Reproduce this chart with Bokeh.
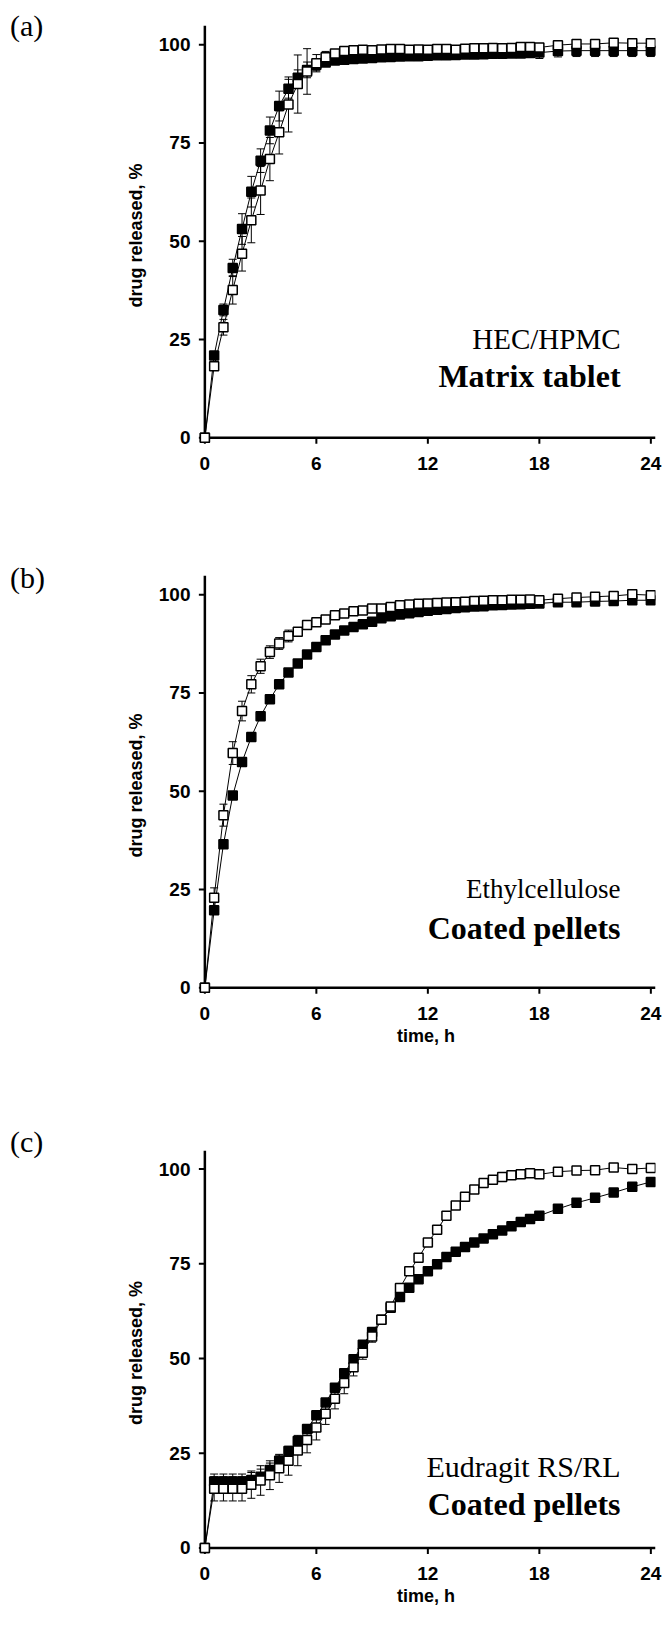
import numpy as np
from bokeh.plotting import figure
from bokeh.models import Range1d, FixedTicker, Label, ColumnDataSource, Div
from bokeh.layouts import column, row
from bokeh.embed import file_html
from bokeh.resources import INLINE

# ---------------- data ----------------
time_h = [0, 0.5, 1, 1.5, 2, 2.5, 3, 3.5, 4, 4.5, 5, 5.5, 6, 6.5, 7, 7.5, 8, 8.5,
          9, 9.5, 10, 10.5, 11, 11.5, 12, 12.5, 13, 13.5, 14, 14.5, 15, 15.5, 16,
          16.5, 17, 17.5, 18, 19, 20, 21, 22, 23, 24]

x_ticks = [0, 6, 12, 18, 24]
y_ticks = [0, 25, 50, 75, 100]

# (a) HEC/HPMC matrix tablet
a_filled = [0, 20.9, 32.5, 43.2, 53.1, 62.6, 70.5, 78.2, 84.4, 88.8, 91.6, 93.6, 94.9,
            95.5, 96.0, 96.2, 96.4, 96.5, 96.6, 96.8, 96.9, 97.0, 97.1, 97.1, 97.2, 97.3,
            97.3, 97.4, 97.5, 97.5, 97.6, 97.7, 97.7, 97.8, 97.8, 97.9, 98.0, 98.4, 98.5,
            98.5, 98.5, 98.5, 98.5]
a_filled_err = [0, 1.0, 1.5, 2.2, 3.9, 3.9, 3.0, 3.4, 3.8, 2.4, 2.0, 2.0, 1.5, 1.0, 0.8,
                0.8, 0.8, 0.8, 0.8, 0.8, 0.8, 0.8, 0.8, 0.8, 0.8, 0.8, 0.8, 0.8, 0.8,
                0.8, 0.8, 0.8, 0.8, 0.8, 0.8, 0.8, 1.5, 1.5, 1.5, 1.5, 1.5, 1.5, 1.5]
a_open = [0, 18.2, 28.1, 37.6, 46.8, 55.3, 62.9, 70.9, 77.7, 84.8, 90.0, 93.2, 95.3,
          96.8, 97.8, 98.4, 98.6, 98.7, 98.6, 98.8, 98.9, 98.9, 98.7, 98.8, 98.7, 98.9,
          98.9, 98.7, 99.0, 99.1, 99.1, 99.2, 99.1, 99.2, 99.4, 99.4, 99.3, 99.9, 100.2,
          100.2, 100.5, 100.4, 100.4]
a_open_err = [0, 1.0, 2.0, 3.6, 4.4, 5.7, 6.1, 5.5, 5.5, 7.0, 7.4, 5.8, 2.2, 1.5, 1.0,
              0.8, 0.8, 0.8, 0.8, 0.8, 0.8, 0.8, 0.8, 0.8, 0.8, 0.8, 0.8, 0.8, 0.8,
              0.8, 0.8, 0.8, 0.8, 0.8, 0.8, 0.8, 0.8, 0.6, 0.6, 0.6, 0.6, 0.6, 0.6]

# (b) Ethylcellulose coated pellets
b_filled = [0, 19.7, 36.5, 48.9, 57.4, 63.8, 69.1, 73.4, 77.2, 80.2, 82.5, 84.8, 86.7,
            88.4, 89.9, 90.9, 91.8, 92.5, 93.1, 94.0, 94.5, 95.0, 95.3, 95.6, 95.9, 96.2,
            96.4, 96.6, 96.8, 97.0, 97.1, 97.3, 97.4, 97.5, 97.6, 97.7, 97.8, 98.1, 98.1,
            98.3, 98.4, 98.6, 98.6]
b_filled_err = [0, 0.8, 0.8, 0.8, 0.7, 0.7, 0.6, 0.6, 0.5, 0.5, 0.5, 0.5, 0.5, 0.5, 0.5,
                0.5, 0.5, 0.5, 0.5, 0.5, 0.5, 0.5, 0.5, 0.5, 0.5, 0.5, 0.5, 0.5, 0.5,
                0.5, 0.5, 0.5, 0.5, 0.5, 0.5, 0.5, 0.5, 0.5, 0.5, 0.5, 0.5, 0.5, 0.5]
b_open = [0, 22.9, 43.9, 59.7, 70.4, 77.2, 81.8, 85.4, 87.6, 89.5, 90.6, 92.3, 93.0,
          93.7, 94.8, 95.2, 95.8, 96.0, 96.5, 96.5, 96.9, 97.3, 97.5, 97.7, 97.8, 97.9,
          98.0, 98.1, 98.2, 98.4, 98.5, 98.6, 98.6, 98.7, 98.7, 98.8, 98.6, 99.0, 99.3,
          99.5, 99.7, 100.1, 99.9]
b_open_err = [0, 2.5, 2.8, 2.9, 2.5, 2.2, 1.8, 1.6, 1.5, 1.5, 1.0, 0.8, 0.7, 0.6, 0.5,
              0.5, 0.5, 0.5, 0.5, 0.5, 0.5, 0.5, 0.5, 0.5, 0.5, 0.5, 0.5, 0.5, 0.5,
              0.5, 0.5, 0.5, 0.5, 0.5, 0.5, 0.5, 0.5, 0.5, 0.5, 0.5, 0.5, 0.5, 0.5]

# (c) Eudragit RS/RL coated pellets
c_filled = [0, 17.5, 17.5, 17.5, 17.5, 17.9, 18.8, 20.6, 23.0, 25.6, 28.2, 31.4, 35.0,
            38.4, 42.3, 46.1, 49.8, 53.6, 57.0, 60.2, 63.4, 66.2, 68.7, 70.9, 73.0, 74.9,
            76.8, 78.2, 79.4, 80.6, 81.7, 82.8, 83.8, 84.9, 86.0, 86.8, 87.7, 89.5, 91.1,
            92.4, 93.8, 95.3, 96.6]
c_filled_err = [0, 2.0, 2.0, 2.0, 2.0, 2.0, 2.0, 1.8, 1.5, 1.2, 1.0, 0.8, 0.8, 0.8, 0.8,
                0.8, 0.8, 0.8, 0.8, 0.8, 0.8, 0.8, 0.6, 0.6, 0.6, 0.6, 0.6, 0.6, 0.6,
                0.6, 0.6, 0.6, 0.6, 0.6, 0.6, 0.6, 0.6, 0.6, 0.6, 0.6, 0.6, 0.6, 0.6]
c_open = [0, 15.6, 15.6, 15.6, 15.6, 16.7, 17.8, 19.2, 21.0, 23.0, 25.7, 28.5, 31.8,
          35.4, 39.4, 43.5, 47.7, 51.5, 55.8, 60.2, 63.7, 68.6, 73.0, 76.6, 80.6, 84.0,
          87.7, 90.4, 92.7, 94.6, 96.3, 97.2, 97.9, 98.4, 98.6, 98.9, 98.6, 99.3, 99.6,
          99.7, 100.4, 100.0, 100.3]
c_open_err = [0, 3.2, 3.2, 3.2, 3.2, 3.6, 3.9, 3.8, 3.7, 3.8, 4.0, 3.4, 3.3, 2.8, 2.7,
              2.8, 2.3, 1.7, 1.5, 1.0, 0.8, 0.8, 0.6, 0.6, 0.6, 0.6, 0.6, 0.6, 0.6,
              0.6, 0.6, 0.6, 0.6, 0.6, 0.6, 0.6, 0.6, 0.5, 0.5, 0.5, 0.5, 0.5, 0.5]

SANS = "Liberation Sans"
SERIF = "Liberation Serif"
X_END = 24.25
Y_END = 104.9


def letter_panel(letter, height, top):
    # panel letter in its own 50px-wide strip; 'top' = top of a 30px line box
    html = ('<div style="position:relative; top:%dpx; left:10px; width:40px; '
            'font-family:\'Liberation Serif\'; font-size:30px; line-height:30px; '
            'color:black;">%s</div>' % (top, letter))
    return Div(text=html, width=50, height=height, margin=0)


def make_panel(filled, filled_err, opened, opened_err, height, b_top, b_bottom,
               line1, line1_y, line1_size, line2, line2_y, xlabel):
    f = np.array(filled, dtype=float)
    fe = np.array(filled_err, dtype=float)
    o = np.array(opened, dtype=float)
    oe = np.array(opened_err, dtype=float)
    src = ColumnDataSource(dict(t=time_h, f=f, f_lo=f - fe, f_hi=f + fe,
                                o=o, o_lo=o - oe, o_hi=o + oe))

    p = figure(width=612, height=height, x_range=Range1d(-0.45, X_END),
               y_range=Range1d(-2.0, Y_END), output_backend="svg",
               toolbar_location=None, min_border_left=146, min_border_right=7,
               min_border_top=b_top, min_border_bottom=b_bottom, margin=0)
    p.grid.visible = False
    p.outline_line_color = None
    p.background_fill_color = "white"
    p.border_fill_color = "white"

    # library axes: tick labels and titles only (lines drawn at the origin below)
    for ax in (p.xaxis[0], p.yaxis[0]):
        ax.axis_line_color = None
        ax.major_tick_line_color = None
        ax.minor_tick_line_color = None
        ax.major_tick_out = 0
        ax.major_tick_in = 0
        ax.major_label_text_font = SANS
        ax.major_label_text_font_style = "bold"
        ax.major_label_text_font_size = "19px"
        ax.major_label_text_color = "black"
        ax.axis_label_text_font = SANS
        ax.axis_label_text_font_style = "bold"
        ax.axis_label_text_font_size = "18px"
        ax.axis_label_text_color = "black"
    p.xaxis.ticker = FixedTicker(ticks=x_ticks)
    p.yaxis.ticker = FixedTicker(ticks=y_ticks)
    p.xaxis.major_label_standoff = 11
    p.yaxis.major_label_standoff = 6
    p.yaxis.axis_label = "drug released, %"
    p.yaxis.axis_label_standoff = 10
    if xlabel:
        p.xaxis.axis_label = "time, h"
        p.xaxis.axis_label_standoff = 3

    # axis lines through the origin and outward ticks
    p.segment(x0=[0], y0=[0], x1=[0], y1=[Y_END], line_color="black", line_width=2.5)
    p.segment(x0=[0], y0=[0], x1=[X_END], y1=[0], line_color="black", line_width=2.5)
    p.ray(x=x_ticks, y=[0] * len(x_ticks), length=6, length_units="screen",
          angle=-np.pi / 2, line_color="black", line_width=2)
    p.ray(x=[0] * len(y_ticks), y=y_ticks, length=6, length_units="screen",
          angle=np.pi, line_color="black", line_width=2)

    # error bars
    for lo, hi in (("f_lo", "f_hi"), ("o_lo", "o_hi")):
        p.segment("t", lo, "t", hi, source=src, line_color="black", line_width=1)
        p.scatter("t", hi, marker="dash", size=8, source=src, line_color="black", line_width=1)
        p.scatter("t", lo, marker="dash", size=8, source=src, line_color="black", line_width=1)

    p.line("t", "f", source=src, line_color="black", line_width=1)
    p.scatter("t", "f", marker="square", size=9, source=src, fill_color="black",
              line_color="black", line_width=1.5)
    p.line("t", "o", source=src, line_color="black", line_width=1)
    p.scatter("t", "o", marker="square", size=9, source=src, fill_color="white",
              line_color="black", line_width=1.5)

    p.add_layout(Label(x=22.37, y=line1_y, text=line1, text_font=SERIF,
                       text_font_size=line1_size, text_align="right",
                       text_baseline="alphabetic", text_color="black"))
    p.add_layout(Label(x=22.37, y=line2_y, text=line2, text_font=SERIF,
                       text_font_size="32px", text_font_style="bold", text_align="right",
                       text_baseline="alphabetic", text_color="black"))
    return p


pa = make_panel(a_filled, a_filled_err, a_open, a_open_err, 500, 25, 55,
                "HEC/HPMC", 25.2, "29px", "Matrix tablet", 15.6, False)
pb = make_panel(b_filled, b_filled_err, b_open, b_open_err, 560, 75, 65,
                "Ethylcellulose", 25.2, "27px", "Coated pellets", 15.2, True)
pc = make_panel(c_filled, c_filled_err, c_open, c_open_err, 574, 90, 79,
                "Eudragit RS/RL", 21.4, "30px", "Coated pellets", 11.6, True)

la = letter_panel("(a)", 500, 11)
lb = letter_panel("(b)", 560, 63)
lc = letter_panel("(c)", 574, 67)

layout = column(row(la, pa, spacing=0), row(lb, pb, spacing=0),
                row(lc, pc, spacing=0), spacing=0)
open("out.html", "w").write(file_html(layout, INLINE))
